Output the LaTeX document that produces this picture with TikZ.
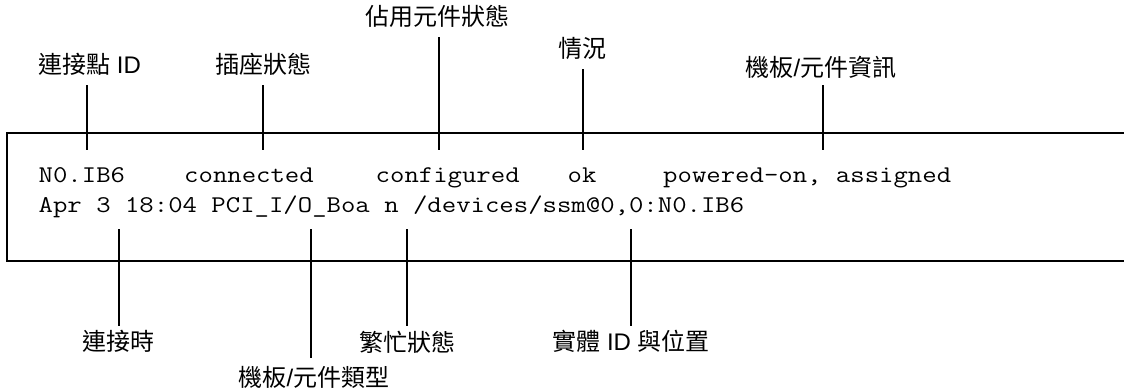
\documentclass[tikz,border=0pt]{standalone}
\usepackage{fontspec}
\setmainfont{Liberation Sans}
\newfontfamily\cjk{Noto Sans CJK TC}
\newfontfamily\codefont[FakeStretch=1.165]{Latin Modern Mono}
\tikzset{
  lbl/.style={inner sep=0pt,anchor=base,font=\fontsize{24bp}{24bp}\selectfont},
  code/.style={inner sep=0pt,anchor=base west,font=\fontsize{24bp}{24bp}\codefont},
  rule/.style={draw=black,line width=2bp}
}
\begin{document}
\begin{tikzpicture}[x=1bp,y=-1bp]
\useasboundingbox (0,0) rectangle (1124,391);
% output box
\coordinate (tr) at (1124,133);
\coordinate (tl) at (7,133);
\coordinate (bl) at (7,261);
\coordinate (br) at (1124,261);
\draw[rule,line join=miter] (tr) -- (tl) -- (bl) -- (br);
% code text
\node[code] (c1) at (38.5,182) {N0.IB6};
\node[code] (c2) at (184,182) {connected};
\node[code] (c3) at (375.5,182) {configured};
\node[code] (c4) at (567.5,182) {ok};
\node[code] (c5) at (663,182) {powered-on, assigned};
\node[code] (c6) at (38.5,212) {Apr 3 18:04 PCI\_I/O\_Boa n /devices/ssm@0,0:N0.IB6};
% top labels
\node[lbl] (t1) at (89.5,73) {{\cjk 連接點} ID};
\node[lbl] (t2) at (263,73) {\cjk 插座狀態};
\node[lbl] (t3) at (437.5,25.5) {\cjk 佔用元件狀態};
\node[lbl] (t4) at (582.5,57.5) {\cjk 情況};
\node[lbl] (t5) at (821,76) {{\cjk 機板}/{\cjk 元件資訊}};
% bottom labels
\node[lbl] (b1) at (118.5,350) {\cjk 連接時};
\node[lbl] (b2) at (314,386) {{\cjk 機板}/{\cjk 元件類型}};
\node[lbl] (b3) at (407,351) {\cjk 繁忙狀態};
\node[lbl] (b4) at (631,350) {{\cjk 實體} ID {\cjk 與位置}};
% connector ends
\coordinate (t1a) at (87,85);   \coordinate (t1z) at (87,150);
\coordinate (t2a) at (263,85);\coordinate (t2z) at (263,150);
\coordinate (t3a) at (439,37);\coordinate (t3z) at (439,150);
\coordinate (t4a) at (583,69);\coordinate (t4z) at (583,150);
\coordinate (t5a) at (823,85);\coordinate (t5z) at (823,150);
\coordinate (b1a) at (119,229);\coordinate (b1z) at (119,326);
\coordinate (b2a) at (311,229);\coordinate (b2z) at (311,358);
\coordinate (b3a) at (407,229);\coordinate (b3z) at (407,326);
\coordinate (b4a) at (631,229);\coordinate (b4z) at (631,326);
\foreach \n in {t1,t2,t3,t4,t5,b1,b2,b3,b4}
  \draw[rule] (\n a) -- (\n z);
\end{tikzpicture}
\end{document}
